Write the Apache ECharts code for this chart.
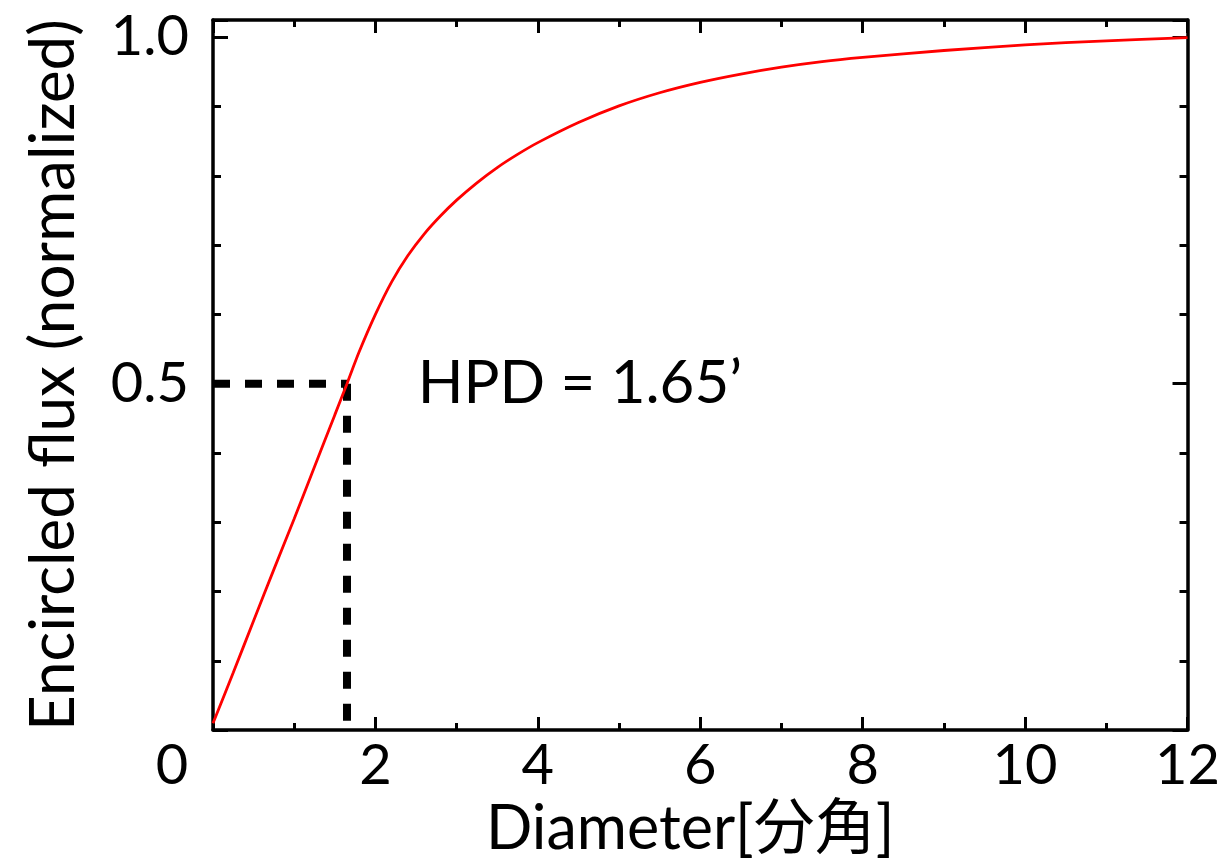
<!DOCTYPE html>
<html>
<head>
<meta charset="utf-8">
<script src="https://cdn.jsdelivr.net/npm/echarts@6/dist/echarts.min.js"></script>
<style>
  html, body { margin: 0; padding: 0; background: #fff; }
  #chart { width: 1223px; height: 865px; }
</style>
</head>
<body>
<div id="chart"></div>
<script>
// encircled flux curve
const diameter = [0, 0.25, 0.5, 0.75, 1.0, 1.25, 1.5, 1.65, 1.8, 2.0, 2.2, 2.4, 2.6, 2.8, 3.0, 3.25, 3.5, 3.75, 4.0, 4.5, 5.0, 5.5, 6.0, 6.5, 7.0, 7.5, 8.0, 9.0, 10.0, 11.0, 12.0]
const flux = [0.01, 0.083, 0.158, 0.232, 0.305, 0.38, 0.455, 0.5, 0.546, 0.60, 0.647, 0.685, 0.716, 0.742, 0.765, 0.79, 0.812, 0.831, 0.848, 0.877, 0.901, 0.920, 0.935, 0.947, 0.957, 0.965, 0.971, 0.981, 0.989, 0.995, 0.9995]

const hpd = 1.65
const halfLevel = 0.5
const hpdLabel = 'HPD = 1.65’'
const hpdLabelAt = [2.52, 0.5]

const xLabels = ['0', '2', '4', '6', '8', '10', '12']
const yLabels = { '0.5': '0.5', '1': '1.0' }

const FONT = "Lato, 'Noto Sans CJK JP', sans-serif"
const black = '#000'

const chart = echarts.init(document.getElementById('chart'))

const majorY = (pos, labels) => ({
  type: 'value', position: pos, min: 0, max: 1.025, interval: 0.5,
  axisLine: { show: true, onZero: false, lineStyle: { color: black, width: 3.5 } },
  axisTick: { show: true, inside: true, length: 15, lineStyle: { color: black, width: 3 } },
  axisLabel: {
    show: labels, margin: 24, fontSize: 56, fontFamily: FONT, color: black,
    formatter: v => yLabels[String(Math.round(v * 1000) / 1000)] || ''
  },
  splitLine: { show: false }
})

const minorY = pos => ({
  type: 'value', position: pos, min: 0, max: 1.025, interval: 0.1,
  axisLine: { show: false, onZero: false },
  axisTick: { show: true, inside: true, length: 8, lineStyle: { color: black, width: 3 } },
  axisLabel: { show: false },
  splitLine: { show: false }
})

const xAx = (pos, labels) => ({
  type: 'value', position: pos, min: 0, max: 12, interval: 2,
  axisLine: { show: true, onZero: false, lineStyle: { color: black, width: 3.5 } },
  axisTick: { show: true, inside: true, length: 13, lineStyle: { color: black, width: 3 } },
  minorTick: { show: true, splitNumber: 2, length: 7, lineStyle: { color: black, width: 3 } },
  axisLabel: {
    show: labels, margin: 8, fontSize: 56, fontFamily: FONT, color: black,
    formatter: v => {
      const t = xLabels[Math.round(v / 2)]
      return v === 0 ? '{z|' + t + '}' : t
    },
    rich: { z: { fontSize: 56, fontFamily: FONT, color: black, padding: [0, 82, 0, 0] } }
  },
  splitLine: { show: false }
})

const bottomX = xAx('bottom', true)
bottomX.name = 'Diameter[分角]'
bottomX.nameLocation = 'middle'
bottomX.nameGap = 40
bottomX.nameTextStyle = { fontSize: 61, fontFamily: FONT, color: black, padding: [0, 20, 0, 0] }

const leftY = majorY('left', true)
leftY.name = 'Encircled flux (normalized)'
leftY.nameLocation = 'middle'
leftY.nameGap = 128
leftY.nameTextStyle = { fontSize: 62, fontFamily: FONT, color: black }

chart.setOption({
  animation: false,
  backgroundColor: '#fff',
  grid: { left: 213, right: 35, top: 20, bottom: 123 },
  xAxis: [bottomX, xAx('top', false)],
  yAxis: [leftY, minorY('left'), majorY('right', false), minorY('right')],
  series: [
    {
      type: 'line',
      data: diameter.map((d, i) => [d, flux[i]]),
      smooth: 0.3,
      symbol: 'none',
      lineStyle: { color: '#ff0000', width: 2.8 },
      z: 3
    },
    {
      type: 'line',
      data: [[0, halfLevel], [hpd, halfLevel]],
      symbol: 'none',
      lineStyle: { color: black, width: 8, type: [17, 15], cap: 'butt' },
      z: 2
    },
    {
      type: 'line',
      data: [[hpd, halfLevel], [hpd, 0]],
      symbol: 'none',
      lineStyle: { color: black, width: 8, type: [17, 15], cap: 'butt' },
      z: 2
    },
    {
      type: 'scatter',
      data: [hpdLabelAt],
      symbolSize: 0,
      itemStyle: { opacity: 1 },
      label: {
        show: true, position: 'right', distance: 0,
        formatter: hpdLabel,
        fontSize: 60, fontFamily: FONT, color: black
      }
    }
  ]
})
</script>
</body>
</html>
